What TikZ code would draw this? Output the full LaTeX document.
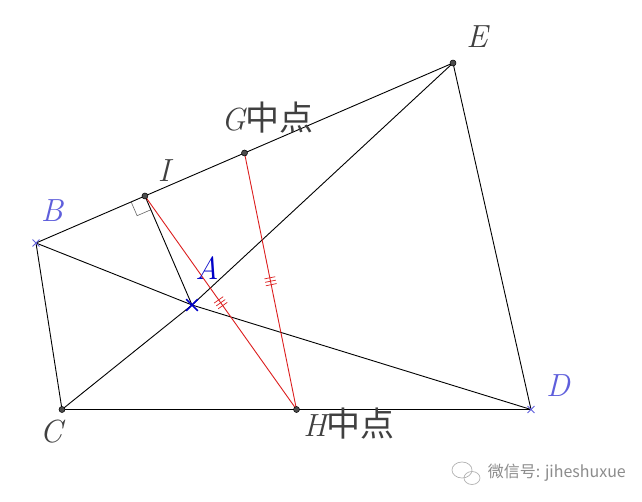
\documentclass[tikz,border=0pt]{standalone}
\usepackage{fontspec}
\newfontfamily\cjk{Noto Sans CJK SC}
\usetikzlibrary{calc,shapes.misc,decorations.markings}
\definecolor{ptblue}{RGB}{95,95,220}
\definecolor{ablue}{RGB}{0,0,200}
\definecolor{segred}{RGB}{220,30,30}

\begin{document}
\begin{tikzpicture}[x=1pt,y=-1pt,line width=0.9pt,
                    seg/.style={black},
                    redseg/.style={segred},
                    ticks/.style={postaction={decorate,decoration={markings,
                        mark=at position 0.5 with {\foreach \k in {-3.5,0,3.5}
                            \draw[segred,line width=0.7pt] (\k,-5.5) -- (\k,5.5);}}}},
                    dot/.style={circle,draw=black,fill=black!70,inner sep=0pt,
                        minimum size=6pt,line width=0.5pt},
                    xmark/.style={cross out,draw=ptblue,inner sep=0pt,
                        minimum size=6pt,line width=0.9pt},
                    lbl/.style={text=black!75,font=\fontsize{32}{36}\selectfont\itshape},
                    bluelbl/.style={lbl,text=ptblue}]
    \useasboundingbox (0,0) rectangle (642,502);
    \fill[white] (0,0) rectangle (642,502);
    % points
    \coordinate (B) at (36,243);
    \coordinate (C) at (62,409.5);
    \coordinate (D) at (531,409.5);
    \coordinate (E) at (453,63);
    \coordinate (A) at (192,305);
    \coordinate (G) at ($(B)!0.5!(E)$);
    \coordinate (H) at ($(C)!0.5!(D)$);
    \coordinate (I) at ($(B)!(A)!(E)$);
    % right angle at I
    \coordinate (ib) at ($(I)!15pt!(B)$);
    \coordinate (ia) at ($(I)!15pt!(A)$);
    \draw[black!60,line width=0.6pt] (ib) -- ($(ib)+(ia)-(I)$) -- (ia);
    % segments
    \draw[seg] (B) -- (E) -- (D) -- (C) -- (B);
    \draw[seg] (B) -- (A) -- (D);
    \draw[seg] (C) -- (A) -- (E);
    \draw[seg] (A) -- (I);
    \draw[redseg,ticks] (I) -- (H);
    \draw[redseg,ticks] (G) -- (H);
    % marks
    \foreach \p in {C,E,G,H,I}
        \node[dot] (d\p) at (\p) {};
    \node[xmark] (xB) at (B) {};
    \node[xmark] (xD) at (D) {};
    \node[xmark,draw=ablue,minimum size=10pt,line width=1.6pt] (xA) at (A) {};
    % labels
    \node[lbl] (lE) at ($(E)+(24,-26)$) {E};
    \node[lbl,anchor=west] (lG) at ($(G)+(-27,-35)$) {G{\upshape\cjk\fontsize{34}{36}\selectfont 中点}};
    \node[lbl] (lI) at ($(I)+(19,-25)$) {I};
    \node[bluelbl] (lB) at ($(B)+(16,-32)$) {B};
    \node[lbl,text=ablue] (lA) at ($(A)+(15,-37)$) {A};
    \node[bluelbl] (lD) at ($(D)+(27,-24)$) {D};
    \node[lbl] (lC) at ($(C)+(-11,22)$) {C};
    \node[lbl,anchor=west] (lH) at ($(H)+(3,14)$) {H{\upshape\cjk\fontsize{34}{36}\selectfont 中点}};
    % watermark
    \node[anchor=west,text=black!45,font=\cjk\fontsize{16}{18}\selectfont]
        (wm) at (484,473) {微信号: jiheshuxue};
    \draw[black!30,line width=0.7pt] (462,470) ellipse (10 and 8);
    \draw[black!30,line width=0.7pt] (472,478) ellipse (8 and 6.5);
\end{tikzpicture}
\end{document}
